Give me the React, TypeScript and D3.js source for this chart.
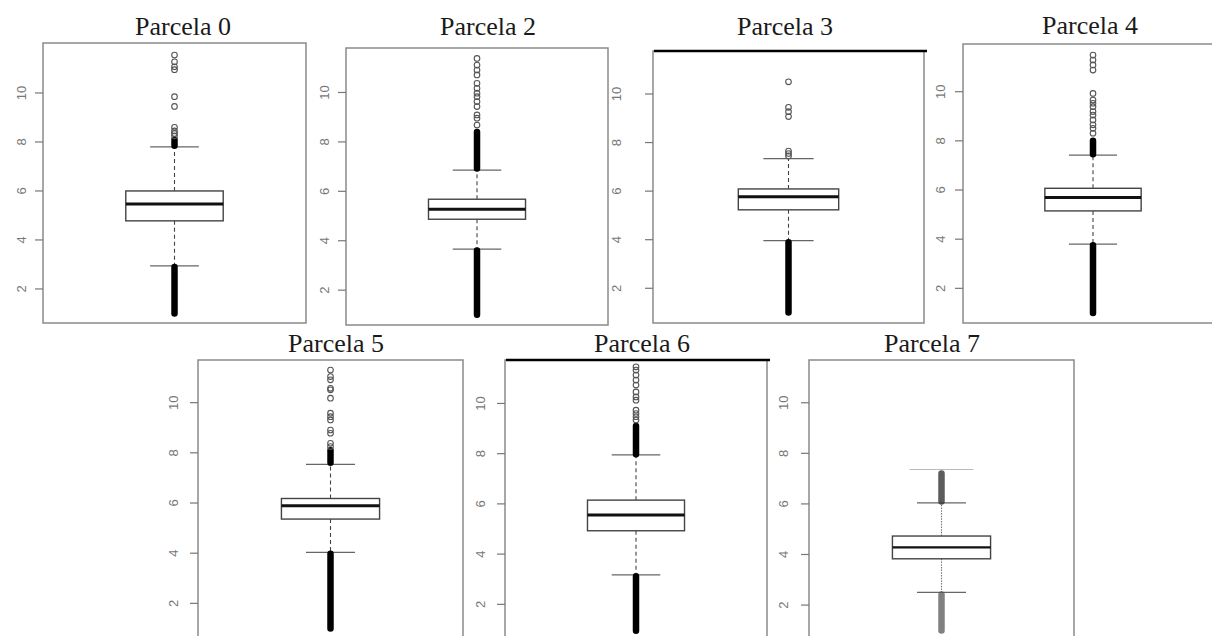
import React from "react";
import * as d3 from "d3";

// ---- data ----
const panelNames = ["Parcela 0", "Parcela 2", "Parcela 3", "Parcela 4", "Parcela 5", "Parcela 6", "Parcela 7"];
const yTicks = [2, 4, 6, 8, 10];
const yLimits: [number, number][] = [
  [0.61, 12.04], [0.59, 11.8], [0.57, 11.77], [0.59, 11.94], [0.58, 11.7], [0.58, 11.73], [0.58, 11.69],
];
const q1 = [4.78, 4.87, 5.23, 5.15, 5.36, 4.93, 3.83];
const medians = [5.47, 5.27, 5.77, 5.7, 5.89, 5.56, 4.28];
const q3 = [6.0, 5.68, 6.09, 6.07, 6.18, 6.15, 4.73];
const whiskerLow = [2.94, 3.66, 3.96, 3.8, 4.03, 3.17, 2.5];
const whiskerHigh = [7.8, 6.86, 7.34, 7.42, 7.54, 7.95, 6.04];
// dense runs of outliers (drawn as a solid column), [from, to]
const denseLow: [number, number][] = [
  [1.0, 2.9], [1.0, 3.6], [1.0, 3.9], [1.0, 3.75], [1.0, 3.98], [0.95, 3.12], [1.0, 2.42],
];
const denseHigh: ([number, number] | null)[] = [
  [7.85, 8.1], [6.92, 8.4], null, [7.46, 8.0], [7.6, 8.1], [7.98, 9.1], [6.1, 7.2],
];
const outliersHigh: number[][] = [
  [8.25, 8.35, 8.45, 8.6, 9.45, 9.85, 10.95, 11.07, 11.27, 11.55],
  [8.68, 8.96, 9.09, 9.43, 9.63, 9.83, 9.97, 10.17, 10.37, 10.71, 10.91, 11.11, 11.38],
  [7.45, 7.55, 7.65, 9.07, 9.27, 9.45, 10.5],
  [8.31, 8.51, 8.65, 8.85, 9.05, 9.19, 9.39, 9.53, 9.66, 9.93, 10.88, 11.09, 11.29, 11.49],
  [8.25, 8.38, 8.78, 8.91, 9.31, 9.44, 9.58, 10.18, 10.51, 10.57, 10.91, 11.04, 11.3],
  [9.34, 9.47, 9.6, 9.73, 10.13, 10.26, 10.46, 10.73, 10.93, 11.13, 11.33, 11.46],
  [],
];
const extraLine: (number | null)[] = [null, null, null, null, null, null, 7.36];

// ---- layout ----
const frames = [
  { l: 43, t: 43, r: 306, b: 323, tx: 183, ty: 35, lab: 22, topBlack: false },
  { l: 346, t: 48, r: 608, b: 325, tx: 488, ty: 35, lab: 22, topBlack: false },
  { l: 653, t: 51, r: 924, b: 323, tx: 785, ty: 35, lab: 37, topBlack: true },
  { l: 963, t: 44, r: 1223, b: 323, tx: 1090, ty: 34, lab: 23, topBlack: false },
  { l: 198, t: 360, r: 463, b: 639, tx: 336, ty: 352, lab: 25, topBlack: false },
  { l: 505, t: 360, r: 767, b: 640, tx: 642, ty: 352, lab: 25, topBlack: true },
  { l: 809, t: 360, r: 1074, b: 641, tx: 932, ty: 352, lab: 26, topBlack: false },
];

function Panel({ i }: { i: number }) {
  const f = frames[i];
  const y = d3.scaleLinear().domain(yLimits[i]).range([f.b, f.t]);
  const x = d3.scaleLinear().domain([0.46, 1.54]).range([f.l, f.r]);
  const faded = i === 6;
  const cx = x(1);
  const bx0 = x(0.8), bx1 = x(1.2);
  const sx0 = x(0.9), sx1 = x(1.1);
  const whiskColor = faded ? "#777" : "#444";
  const dash = faded ? "1.5,1.2" : "4,3";
  const dl = denseLow[i];
  const dh = denseHigh[i];
  return (
    <g>
      <text x={f.tx} y={f.ty} textAnchor="middle" fontFamily="'Liberation Serif', 'Times New Roman', serif" fontSize={26} fill="#1a1a1a">
        {panelNames[i]}
      </text>
      <rect x={f.l} y={f.t} width={f.r - f.l} height={f.b - f.t} fill="#fff" stroke="#8a8a8a" strokeWidth={1.5} />
      {f.topBlack && <line x1={f.l + 1} x2={f.r + 3} y1={f.t} y2={f.t} stroke="#000" strokeWidth={2.5} />}
      {yTicks.map((v) => (
        <g key={v}>
          <line x1={f.l - 8} x2={f.l} y1={y(v)} y2={y(v)} stroke="#777" strokeWidth={1.2} />
          <text
            transform={`translate(${f.l - f.lab},${y(v)}) rotate(-90)`}
            textAnchor="middle"
            dominantBaseline="central"
            fontFamily="'Liberation Sans', Arial, sans-serif"
            fontSize={13}
            fill="#777"
          >
            {v}
          </text>
        </g>
      ))}
      {/* whiskers */}
      <line x1={cx} x2={cx} y1={y(q3[i])} y2={y(whiskerHigh[i])} stroke={whiskColor} strokeWidth={1.1} strokeDasharray={dash} />
      <line x1={cx} x2={cx} y1={y(q1[i])} y2={y(whiskerLow[i])} stroke={whiskColor} strokeWidth={1.1} strokeDasharray={dash} />
      <line x1={sx0} x2={sx1} y1={y(whiskerHigh[i])} y2={y(whiskerHigh[i])} stroke="#666" strokeWidth={1.2} />
      <line x1={sx0} x2={sx1} y1={y(whiskerLow[i])} y2={y(whiskerLow[i])} stroke="#666" strokeWidth={1.2} />
      {extraLine[i] !== null && (
        <line x1={x(0.87)} x2={x(1.13)} y1={y(extraLine[i] as number)} y2={y(extraLine[i] as number)} stroke="#bbb" strokeWidth={1.2} />
      )}
      {/* box */}
      <rect x={bx0} y={y(q3[i])} width={bx1 - bx0} height={y(q1[i]) - y(q3[i])} fill="#fff" stroke="#444" strokeWidth={1.4} />
      <line x1={bx0} x2={bx1} y1={y(medians[i])} y2={y(medians[i])} stroke="#111" strokeWidth={faded ? 2.2 : 3} />
      {/* outliers */}
      <line x1={cx} x2={cx} y1={y(dl[0])} y2={y(dl[1])} stroke={faded ? "#555" : "#000"} strokeOpacity={faded ? 0.75 : 1} strokeWidth={6.5} strokeLinecap="round" />
      {dh && (
        <line x1={cx} x2={cx} y1={y(dh[0])} y2={y(dh[1])} stroke={faded ? "#333" : "#000"} strokeOpacity={faded ? 0.8 : 1} strokeWidth={6.5} strokeLinecap="round" />
      )}
      {outliersHigh[i].map((v, k) => (
        <circle key={k} cx={cx} cy={y(v)} r={2.8} fill="none" stroke="#555" strokeWidth={1.1} />
      ))}
    </g>
  );
}

export default function App() {
  return (
    <div style={{ position: "absolute", left: 0, top: 0 }}>
      <svg width={1212} height={636} style={{ display: "block", background: "#fff" }}>
        <rect width={1212} height={636} fill="#fff" />
        {panelNames.map((_, i) => (
          <Panel key={i} i={i} />
        ))}
      </svg>
    </div>
  );
}
